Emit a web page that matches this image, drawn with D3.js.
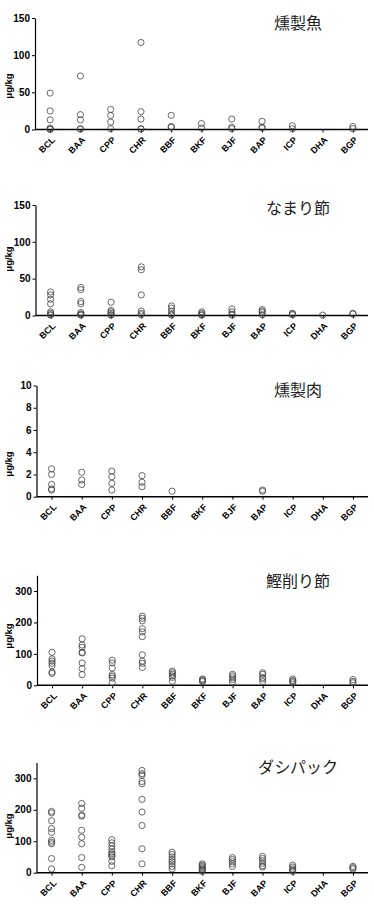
<!DOCTYPE html>
<meta charset="utf-8">
<style>
  body { margin: 0; background: #fff; }
  .axis text { font-family: "Liberation Sans", Arial, sans-serif; font-weight: bold; fill: #000; }
  .axis path, .axis line { stroke: #000; }
  .xlab { font-family: "Liberation Sans", Arial, sans-serif; font-weight: bold; font-size: 9px; fill: #000; }
</style>
<svg width="374" height="919"><defs></defs></svg>
<script src="https://d3js.org/d3.v7.min.js"></script>
<script>

var compounds = ["BCL", "BAA", "CPP", "CHR", "BBF", "BKF", "BJF", "BAP", "ICP", "DHA", "BGP"];
var titles = ["燻製魚", "なまり節", "燻製肉", "鰹削り節", "ダシパック"];
var yMax = [150, 150, 10, 350, 350];
var yTicks = [[0, 50, 100, 150], [0, 50, 100, 150], [0, 2, 4, 6, 8, 10], [0, 100, 200, 300], [0, 100, 200, 300]];

// one list of values (µg/kg) per compound, same order as compounds
var smokedFish = [
  [49, 25, 13, 2, 0.5, 0],
  [72, 20, 13, 1, 0.5],
  [27, 19, 10, 1],
  [117, 24, 14, 1, 0.5],
  [19, 4, 3],
  [8, 2],
  [14, 3, 1],
  [11, 3, 2],
  [5, 1],
  [],
  [4, 1]
];

var namaribushi = [
  [32, 28, 22, 16, 5, 3, 1, 0.5],
  [38, 35, 19, 16, 4, 2, 1, 0.5],
  [18, 7, 5, 3, 1, 0.5],
  [66, 62, 28, 6, 3, 1],
  [13, 10, 6, 2, 0.5],
  [5, 3, 1, 0.5],
  [9, 5, 2, 0.5],
  [8, 6, 4, 1],
  [3, 2, 1],
  [0.5],
  [3, 2]
];

var smokedMeat = [
  [2.5, 2.0, 1.1, 0.7, 0.6],
  [2.2, 1.5, 1.1],
  [2.3, 1.8, 1.2, 0.6],
  [1.9, 1.3, 0.9],
  [0.5],
  [],
  [],
  [0.6, 0.5],
  [],
  [],
  []
];

var katsuobushi = [
  [105, 84, 77, 70, 62, 42, 38],
  [148, 128, 121, 105, 103, 71, 53, 34],
  [80, 71, 55, 34, 29, 23, 8],
  [220, 213, 205, 180, 170, 155, 97, 77, 70, 57],
  [45, 40, 35, 30, 25, 13],
  [20, 17, 14, 12],
  [35, 30, 24, 18, 10],
  [40, 35, 25, 20, 12],
  [20, 15, 12, 8],
  [],
  [18, 12, 8]
];

var dashiPack = [
  [195, 190, 165, 140, 128, 103, 97, 92, 45, 12],
  [220, 205, 183, 180, 135, 113, 92, 48, 17],
  [105, 95, 85, 75, 65, 60, 55, 50, 36, 22],
  [325, 315, 310, 290, 283, 233, 193, 150, 76, 28],
  [65, 58, 50, 42, 35, 28, 20, 12],
  [28, 24, 20, 16, 12, 8, 4],
  [48, 42, 35, 28, 20],
  [52, 45, 38, 30, 22, 18],
  [24, 18, 12, 8, 4],
  [],
  [20, 16, 12]
];

var panels = [smokedFish, namaribushi, smokedMeat, katsuobushi, dashiPack];

// where each panel sits on the page
var frames = [
  {top: 18,    zero: 129.5, left: 35,   titleY: 29,  labelY: 86},
  {top: 205,   zero: 315.5, left: 35.5, titleY: 214, labelY: 259},
  {top: 385.5, zero: 496.7, left: 36.5, titleY: 396, labelY: 464},
  {top: 575.3, zero: 685.3, left: 37,   titleY: 587, labelY: 636},
  {top: 762.6, zero: 872.7, left: 36.5, titleY: 773, labelY: 826}
];

var svg = d3.select("svg");
var defs = svg.select("defs");

panels.forEach(function(data, i) {
  var f = frames[i];

  var x = d3.scalePoint()
      .domain(compounds)
      .range([f.left, 368])
      .padding(0.5);

  var y = d3.scaleLinear()
      .domain([0, yMax[i]])
      .range([f.zero, f.top]);

  var g = svg.append("g");

  // y axis
  var ya = g.append("g")
      .attr("class", "axis")
      .attr("font-size", 9.5)
      .attr("transform", "translate(" + f.left + ",0)")
      .call(d3.axisLeft(y).tickValues(yTicks[i]).tickSize(3).tickSizeOuter(0).tickPadding(2));
  ya.select(".domain").attr("stroke-width", 1.2);

  // x axis, labels set along 45 degree guide lines
  var xa = g.append("g")
      .attr("class", "axis")
      .attr("transform", "translate(0," + f.zero + ")")
      .call(d3.axisBottom(x).tickSize(3).tickSizeOuter(0).tickFormat(""));
  xa.select(".domain").attr("stroke-width", 1.6).attr("d", "M" + f.left + ",0H368");

  defs.selectAll(".guide" + i)
    .data(compounds)
    .enter().append("path")
      .attr("class", "guide" + i)
      .attr("id", function(d) { return "lab" + i + d; })
      .attr("d", function(d) {
        var ex = x(d) + 5.5, ey = f.zero + 11;
        return "M" + (ex - 30) + "," + (ey + 30) + "L" + ex + "," + ey;
      });

  g.selectAll(".xlab")
    .data(compounds)
    .enter().append("text")
      .attr("class", "xlab")
    .append("textPath")
      .attr("href", function(d) { return "#lab" + i + d; })
      .attr("startOffset", "100%")
      .attr("text-anchor", "end")
      .text(function(d) { return d; });

  // y label
  g.append("text")
      .attr("transform", "translate(12," + f.labelY + ") rotate(-90)")
      .attr("text-anchor", "middle")
      .attr("font-family", "Liberation Sans, Arial, sans-serif")
      .attr("font-weight", "bold")
      .attr("font-size", 9.5)
      .text("μg/kg");

  // panel title
  g.append("text")
      .attr("x", 298)
      .attr("y", f.titleY)
      .attr("text-anchor", "middle")
      .attr("font-family", "Noto Sans CJK JP, sans-serif")
      .attr("font-size", 16)
      .attr("fill", "#222")
      .text(titles[i]);

  // points
  var pts = [];
  data.forEach(function(vals, j) {
    vals.forEach(function(v) { pts.push({c: compounds[j], v: v}); });
  });

  g.append("g")
    .selectAll("circle")
    .data(pts)
    .enter().append("circle")
      .attr("cx", function(d) { return x(d.c); })
      .attr("cy", function(d) { return y(d.v); })
      .attr("r", 3.1)
      .attr("fill", "none")
      .attr("stroke", "#444")
      .attr("stroke-width", 0.8);
});

</script>
